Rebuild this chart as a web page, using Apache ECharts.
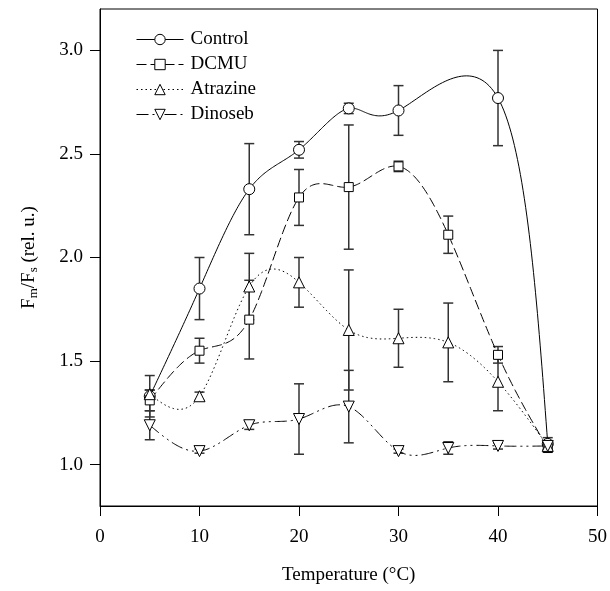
<!DOCTYPE html>
<html>
<head>
<meta charset="utf-8">
<script src="https://cdn.jsdelivr.net/npm/echarts@6/dist/echarts.min.js"></script>
<style>
html,body{margin:0;padding:0;background:#fff;}
#chart{width:610px;height:591px;}
</style>
</head>
<body>
<div id="chart"></div>
<script>
// ---- data ----
var temps = [5, 10, 15, 20, 25, 30, 35, 40, 45];
var seriesNames = ['Control', 'DCMU', 'Atrazine', 'Dinoseb'];
var control    = [1.33, 1.85, 2.33, 2.52, 2.72, 2.71, null, 2.77, 1.10];
var controlErr = [0.10, 0.15, 0.22, 0.04, 0.025, 0.12, null, 0.23, 0.03];
var dcmu       = [1.31, 1.55, 1.70, 2.29, 2.34, 2.44, 2.11, 1.53, 1.08];
var dcmuErr    = [0.05, 0.06, 0.19, 0.135, 0.30, 0.025, 0.09, 0.04, 0.02];
var atrazine   = [1.34, 1.33, 1.86, 1.88, 1.65, 1.61, 1.59, 1.40, 1.09];
var atrazineErr= [0.02, 0.02, 0.16, 0.12, 0.29, 0.14, 0.19, 0.14, 0.02];
var dinoseb    = [1.19, 1.065, 1.19, 1.22, 1.28, 1.065, 1.08, 1.09, 1.09];
var dinosebErr = [0.07, 0.01, 0.02, 0.17, 0.175, 0.01, 0.03, 0.015, 0.02];
var xTicks = [0, 10, 20, 30, 40, 50];
var yTicks = [1.0, 1.5, 2.0, 2.5, 3.0];

var FONT = 'Liberation Serif';

function pairs(vals) {
  var out = [];
  temps.forEach(function (t, i) { if (vals[i] != null) out.push([t, vals[i]]); });
  return out;
}
function errData(vals, errs) {
  var out = [];
  temps.forEach(function (t, i) {
    if (vals[i] != null && errs[i] != null) out.push([t, vals[i] - errs[i], vals[i] + errs[i]]);
  });
  return out;
}
function errSeries(vals, errs) {
  return {
    type: 'custom',
    silent: true,
    z: 1,
    data: errData(vals, errs),
    encode: { x: 0, y: [1, 2] },
    renderItem: function (params, api) {
      var x = api.value(0);
      var lo = api.coord([x, api.value(1)]);
      var hi = api.coord([x, api.value(2)]);
      var hw = 5;
      var st = { stroke: '#333', lineWidth: 1.5 };
      return {
        type: 'group',
        children: [
          { type: 'line', shape: { x1: lo[0], y1: lo[1], x2: hi[0], y2: hi[1] }, style: st },
          { type: 'line', shape: { x1: lo[0] - hw, y1: lo[1], x2: lo[0] + hw, y2: lo[1] }, style: st },
          { type: 'line', shape: { x1: hi[0] - hw, y1: hi[1], x2: hi[0] + hw, y2: hi[1] }, style: st }
        ]
      };
    }
  };
}
// natural cubic spline second derivatives, uniform knots (parameter = point index)
function natM(vs) {
  var n = vs.length, i;
  var a = [], b = [], c = [], d = [];
  for (i = 1; i < n - 1; i++) {
    a.push(1); b.push(4); c.push(1);
    d.push(6 * (vs[i + 1] - 2 * vs[i] + vs[i - 1]));
  }
  var m = d.length;
  for (i = 1; i < m; i++) { var w = a[i] / b[i - 1]; b[i] -= w * c[i - 1]; d[i] -= w * d[i - 1]; }
  var M = new Array(n).fill(0);
  for (i = m - 1; i >= 0; i--) { M[i + 1] = (d[i] - (i < m - 1 ? c[i] * M[i + 2] : 0)) / b[i]; }
  return M;
}
function evalSeg(vs, M, k, B) {
  var A = 1 - B;
  return A * vs[k] + B * vs[k + 1] + ((A * A * A - A) * M[k] + (B * B * B - B) * M[k + 1]) / 6;
}
// parametric spline curve through the marks (rendering only, via the axis scales)
function curveSeries(vals, dash) {
  var pts = pairs(vals);
  return {
    type: 'custom',
    silent: true,
    z: 2,
    clip: true,
    data: pts,
    encode: { x: 0, y: 1 },
    renderItem: function (params, api) {
      if (params.dataIndex !== 0) return null;
      var xs = pts.map(function (p) { return p[0]; }), ys = pts.map(function (p) { return p[1]; });
      var Mx = natM(xs), My = natM(ys);
      var poly = [];
      for (var k = 0; k < pts.length - 1; k++) {
        for (var s = 0; s <= 40; s++) {
          if (k > 0 && s === 0) continue;
          var B = s / 40;
          poly.push(api.coord([evalSeg(xs, Mx, k, B), evalSeg(ys, My, k, B)]));
        }
      }
      return { type: 'polyline', shape: { points: poly }, style: { stroke: '#000', lineWidth: 1, fill: null, lineDash: dash } };
    }
  };
}
function markSeries(name, vals, symbol, size, dash, rot) {
  return {
    name: name,
    type: 'line',
    z: 3,
    data: pairs(vals),
    symbol: symbol,
    symbolSize: size,
    symbolRotate: rot || 0,
    showAllSymbol: true,
    itemStyle: { color: '#fff', borderColor: '#000', borderWidth: 1 },
    lineStyle: { color: '#000', width: 1, type: dash, opacity: 0 },
    emphasis: { disabled: true }
  };
}

var dashes = { DCMU: [10, 4], Atrazine: [1.5, 3], Dinoseb: [12, 4, 2, 4, 2, 4] };

var chart = echarts.init(document.getElementById('chart'));
chart.setOption({
  animation: false,
  backgroundColor: '#fff',
  grid: { left: 100, top: 9, width: 499, height: 497, show: true, borderColor: '#000', borderWidth: 1, containLabel: false },
  legend: {
    orient: 'vertical',
    left: 131,
    top: 25,
    itemWidth: 47,
    itemHeight: 13,
    itemGap: 6,
    data: seriesNames,
    itemStyle: { borderWidth: 1, borderColor: '#000', color: '#fff' },
    lineStyle: { opacity: 1, width: 1, color: '#000' },
    textStyle: { fontFamily: FONT, fontSize: 19, color: '#000', padding: [0, 0, 0, 2] }
  },
  xAxis: {
    type: 'value',
    min: 0, max: 50, interval: 10,
    name: 'Temperature (°C)',
    nameLocation: 'middle',
    nameGap: 60,
    nameTextStyle: { fontFamily: FONT, fontSize: 19, color: '#000' },
    axisLine: { show: true, lineStyle: { color: '#000', width: 1 } },
    axisTick: { show: true, inside: false, length: 10, lineStyle: { color: '#000' }, customValues: xTicks },
    axisLabel: { fontFamily: FONT, fontSize: 19, color: '#000', margin: 22, customValues: xTicks },
    splitLine: { show: false }
  },
  yAxis: {
    type: 'value',
    min: 0.8, max: 3.2,
    name: '{t|F}{s|m}{t|/F}{s|s}{t| (rel. u.)}',
    nameLocation: 'middle',
    nameGap: 60,
    nameRotate: 90,
    nameTextStyle: {
      fontFamily: FONT, fontSize: 19, color: '#000',
      rich: {
        t: { fontFamily: FONT, fontSize: 19, color: '#000' },
        s: { fontFamily: FONT, fontSize: 13, color: '#000', verticalAlign: 'bottom', padding: [8, 0, 0, 0] }
      }
    },
    axisLine: { show: true, lineStyle: { color: '#000', width: 1 } },
    axisTick: { show: true, inside: false, length: 10, lineStyle: { color: '#000' }, customValues: yTicks },
    axisLabel: {
      fontFamily: FONT, fontSize: 19, color: '#000', margin: 17, customValues: yTicks,
      formatter: function (v) { return v.toFixed(1); }
    },
    splitLine: { show: false }
  },
  series: [
    errSeries(control, controlErr),
    errSeries(dcmu, dcmuErr),
    errSeries(atrazine, atrazineErr),
    errSeries(dinoseb, dinosebErr),
    curveSeries(control, null),
    curveSeries(dcmu, dashes.DCMU),
    curveSeries(atrazine, dashes.Atrazine),
    curveSeries(dinoseb, dashes.Dinoseb),
    markSeries('Control', control, 'circle', 11, 'solid'),
    markSeries('DCMU', dcmu, 'rect', 9, dashes.DCMU),
    markSeries('Atrazine', atrazine, 'triangle', 11, dashes.Atrazine),
    markSeries('Dinoseb', dinoseb, 'triangle', 11, dashes.Dinoseb, 180)
  ]
});
</script>
</body>
</html>
